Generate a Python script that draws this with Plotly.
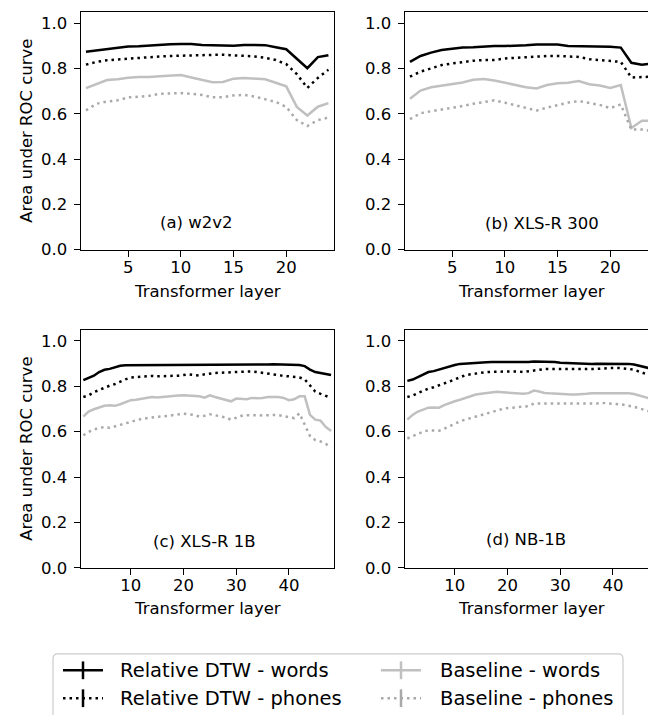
import plotly.graph_objects as go

# ---------------- data ----------------
layers_24 = list(range(1, 25))
layers_48 = list(range(1, 49))

w2v2_rel_words = [0.874,0.879,0.887,0.890,0.897,0.898,0.901,0.906,0.907,0.908,0.908,0.904,0.901,0.901,0.900,0.904,0.904,0.903,0.894,0.885,0.843,0.801,0.850,0.858]
w2v2_rel_phones = [0.817,0.829,0.836,0.840,0.843,0.847,0.850,0.853,0.855,0.856,0.858,0.859,0.859,0.861,0.858,0.856,0.853,0.847,0.837,0.819,0.775,0.714,0.758,0.794]
w2v2_base_words = [0.713,0.731,0.749,0.752,0.759,0.762,0.762,0.766,0.769,0.771,0.760,0.749,0.739,0.740,0.755,0.758,0.756,0.752,0.737,0.721,0.630,0.592,0.631,0.647]
w2v2_base_phones = [0.615,0.644,0.654,0.659,0.672,0.676,0.679,0.688,0.691,0.691,0.688,0.683,0.673,0.673,0.681,0.683,0.676,0.663,0.652,0.630,0.572,0.546,0.572,0.583]

xlsr300_rel_words = [0.829,0.855,0.870,0.881,0.887,0.893,0.894,0.897,0.899,0.899,0.899,0.902,0.906,0.906,0.906,0.899,0.899,0.896,0.896,0.896,0.892,0.825,0.816,0.822]
xlsr300_rel_phones = [0.764,0.786,0.800,0.815,0.822,0.829,0.834,0.837,0.837,0.844,0.847,0.848,0.853,0.855,0.855,0.854,0.851,0.841,0.837,0.832,0.829,0.760,0.763,0.764]
xlsr300_base_words = [0.666,0.702,0.717,0.724,0.732,0.738,0.750,0.753,0.747,0.738,0.727,0.717,0.712,0.727,0.735,0.737,0.744,0.730,0.725,0.714,0.727,0.537,0.569,0.569]
xlsr300_base_phones = [0.576,0.602,0.611,0.618,0.625,0.634,0.644,0.653,0.659,0.649,0.637,0.627,0.614,0.627,0.639,0.649,0.656,0.649,0.639,0.625,0.641,0.530,0.530,0.523]

xlsr1b_rel_words = [0.827,0.836,0.847,0.863,0.873,0.877,0.884,0.891,0.893,0.893,
                    0.894,0.894,0.894,0.893,0.894,0.896,0.896,0.896,0.896,0.896,
                    0.896,0.896,0.896,0.896,0.894,0.894,0.896,0.896,0.896,0.896,
                    0.896,0.896,0.896,0.896,0.896,0.896,0.897,0.897,0.896,0.896,
                    0.896,0.894,0.889,0.874,0.863,0.859,0.853,0.850]
xlsr1b_rel_phones = [0.753,0.760,0.774,0.784,0.796,0.803,0.810,0.821,0.831,0.839,
                     0.841,0.844,0.846,0.846,0.844,0.844,0.846,0.847,0.847,0.850,
                     0.853,0.850,0.847,0.853,0.857,0.859,0.860,0.861,0.863,0.864,
                     0.864,0.866,0.866,0.863,0.859,0.856,0.853,0.850,0.846,0.844,
                     0.841,0.839,0.831,0.803,0.777,0.767,0.757,0.749]
xlsr1b_base_words = [0.667,0.689,0.699,0.706,0.714,0.717,0.714,0.721,0.729,0.739,
                     0.741,0.746,0.749,0.753,0.751,0.754,0.757,0.759,0.760,0.761,
                     0.760,0.759,0.756,0.750,0.760,0.753,0.746,0.739,0.734,0.746,
                     0.744,0.743,0.749,0.747,0.749,0.753,0.753,0.753,0.749,0.739,
                     0.743,0.756,0.756,0.674,0.653,0.649,0.621,0.603]
xlsr1b_base_phones = [0.584,0.599,0.610,0.616,0.621,0.617,0.624,0.631,0.636,0.646,
                      0.650,0.656,0.660,0.664,0.666,0.667,0.670,0.671,0.674,0.679,
                      0.677,0.674,0.667,0.670,0.677,0.673,0.670,0.663,0.653,0.663,
                      0.670,0.673,0.674,0.673,0.671,0.673,0.674,0.673,0.670,0.664,
                      0.660,0.681,0.631,0.581,0.563,0.557,0.546,0.531]

nb1b_rel_words = [0.824,0.830,0.841,0.853,0.863,0.867,0.874,0.881,0.889,0.894,
                  0.899,0.901,0.903,0.904,0.906,0.906,0.907,0.907,0.907,0.906,
                  0.906,0.906,0.904,0.907,0.910,0.910,0.909,0.907,0.907,0.904,
                  0.903,0.901,0.900,0.899,0.899,0.899,0.900,0.900,0.901,0.901,
                  0.901,0.900,0.899,0.896,0.890,0.883,0.877,0.874]
nb1b_rel_phones = [0.753,0.759,0.770,0.781,0.790,0.796,0.803,0.813,0.821,0.830,
                   0.839,0.849,0.853,0.857,0.860,0.863,0.864,0.864,0.866,0.866,
                   0.867,0.866,0.863,0.867,0.871,0.874,0.876,0.876,0.876,0.876,
                   0.876,0.874,0.873,0.873,0.874,0.876,0.877,0.879,0.880,0.881,
                   0.881,0.880,0.877,0.873,0.864,0.857,0.849,0.841]
nb1b_base_words = [0.653,0.674,0.689,0.699,0.706,0.707,0.706,0.717,0.727,0.734,
                   0.741,0.749,0.759,0.764,0.767,0.770,0.774,0.776,0.774,0.773,
                   0.771,0.770,0.767,0.770,0.781,0.777,0.771,0.769,0.767,0.766,
                   0.764,0.764,0.764,0.764,0.767,0.770,0.770,0.770,0.770,0.770,
                   0.770,0.770,0.769,0.766,0.760,0.753,0.746,0.746]
nb1b_base_phones = [0.570,0.581,0.591,0.600,0.606,0.606,0.604,0.613,0.624,0.636,
                    0.646,0.653,0.660,0.667,0.674,0.681,0.687,0.693,0.700,0.704,
                    0.707,0.710,0.710,0.713,0.724,0.724,0.723,0.723,0.723,0.724,
                    0.724,0.724,0.723,0.721,0.721,0.723,0.724,0.727,0.726,0.724,
                    0.721,0.719,0.716,0.710,0.703,0.696,0.689,0.687]

panel_labels = ["(a) w2v2", "(b) XLS-R 300", "(c) XLS-R 1B", "(d) NB-1B"]
series_names = ["Relative DTW - words", "Relative DTW - phones",
                "Baseline - words", "Baseline - phones"]
x_ticks_24 = [5, 10, 15, 20]
x_ticks_48 = [10, 20, 30, 40]
y_ticks = [0.0, 0.2, 0.4, 0.6, 0.8, 1.0]
x_title = "Transformer layer"
y_title = "Area under ROC curve"

# ---------------- styling ----------------
W, H = 656, 715
FONT = "DejaVu Sans"
FS = 16.5
LW = 2.5
DOT = "2.5px,4px"
styles = [
    dict(color="black", dash="solid"),
    dict(color="black", dash=DOT),
    dict(color="#c0c0c0", dash="solid"),
    dict(color="#a9a9a9", dash=DOT),
]

def px(x):
    return x / W

def py(y):
    return 1 - y / H

panels = [
    dict(layers=layers_24, series=[w2v2_rel_words, w2v2_rel_phones, w2v2_base_words, w2v2_base_phones],
         xd=[72.7, 325.7], yd=[3.9, 245.0], rng=[0.5, 24.5], ticks=x_ticks_24, lab=(11.5, 0.1215)),
    dict(layers=layers_24, series=[xlsr300_rel_words, xlsr300_rel_phones, xlsr300_base_words, xlsr300_base_phones],
         xd=[396.7, 649.7], yd=[3.9, 245.0], rng=[0.5, 24.5], ticks=x_ticks_24, lab=(13.5, 0.1145)),
    dict(layers=layers_48, series=[xlsr1b_rel_words, xlsr1b_rel_phones, xlsr1b_base_words, xlsr1b_base_phones],
         xd=[72.7, 325.7], yd=[326.2, 567.7], rng=[0.5, 48.5], ticks=x_ticks_48, lab=(23.9, 0.117)),
    dict(layers=layers_48, series=[nb1b_rel_words, nb1b_rel_phones, nb1b_base_words, nb1b_base_phones],
         xd=[396.7, 649.7], yd=[326.2, 567.7], rng=[0.5, 48.5], ticks=x_ticks_48, lab=(23.6, 0.123)),
]

fig = go.Figure()
annotations = []
layout = {}
for i, p in enumerate(panels):
    n = "" if i == 0 else str(i + 1)
    xa, ya = "x" + n, "y" + n
    for j, s in enumerate(p["series"]):
        fig.add_trace(go.Scatter(
            x=p["layers"], y=s, mode="lines", name=series_names[j], showlegend=False,
            line=dict(color=styles[j]["color"], dash=styles[j]["dash"], width=LW),
            xaxis=xa, yaxis=ya, hoverinfo="skip"))
    common = dict(showline=True, linecolor="black", linewidth=1.3, mirror=True,
                  ticks="outside", ticklen=6, tickwidth=1.3, tickcolor="black",
                  showgrid=False, zeroline=False,
                  tickfont=dict(family=FONT, size=FS, color="black"))
    layout["xaxis" + n] = dict(common, domain=[px(p["xd"][0]), px(p["xd"][1])],
                               range=p["rng"], tickmode="array", tickvals=p["ticks"],
                               anchor=ya, ticklabelstandoff=-4)
    layout["yaxis" + n] = dict(common, domain=[py(p["yd"][1]), py(p["yd"][0])],
                               range=[0, 1.05], tickmode="array", tickvals=y_ticks,
                               tickformat=".1f", anchor=xa, ticklabelstandoff=3)
    annotations.append(dict(text=panel_labels[i], x=p["lab"][0], y=p["lab"][1],
                            xref=xa, yref=ya, showarrow=False, xanchor="center", yanchor="middle",
                            font=dict(family=FONT, size=FS, color="black")))
    # x-axis title
    xt_y = 287.5 if i < 2 else 609.0
    annotations.append(dict(text=x_title, x=px((p["xd"][0] + p["xd"][1]) / 2), y=py(xt_y),
                            xref="paper", yref="paper", showarrow=False,
                            xanchor="center", yanchor="middle",
                            font=dict(family=FONT, size=FS, color="black")))
    if i % 2 == 0:
        annotations.append(dict(text=y_title, x=px(19), y=py((p["yd"][0] + p["yd"][1]) / 2),
                                xref="paper", yref="paper", showarrow=False, textangle=-90,
                                xanchor="center", yanchor="middle",
                                font=dict(family=FONT, size=FS, color="black")))

# ---------------- legend (drawn manually) ----------------
shapes = []
L, R, T, B, r = 45, 615, 655, 740, 5
path = (f"M {px(L + r)},{py(T)} L {px(R - r)},{py(T)} Q {px(R)},{py(T)} {px(R)},{py(T + r)} "
        f"L {px(R)},{py(B)} L {px(L)},{py(B)} L {px(L)},{py(T + r)} Q {px(L)},{py(T)} {px(L + r)},{py(T)} Z")
shapes.append(dict(type="path", path=path, xref="paper", yref="paper",
                   line=dict(color="#cccccc", width=1.2), fillcolor="rgba(255,255,255,0.8)"))
leg_cols = [(55, 95, 110), (373, 413, 430)]
leg_rows = [671.7, 700.0]
for j, name in enumerate(series_names):
    c, rw = j // 2, j % 2
    hx0, hx1, tx = leg_cols[c]
    yy = leg_rows[rw]
    shapes.append(dict(type="line", xref="paper", yref="paper",
                       x0=px(hx0), x1=px(hx1), y0=py(yy), y1=py(yy),
                       line=dict(color=styles[j]["color"], width=LW, dash=styles[j]["dash"])))
    xm = (hx0 + hx1) / 2
    shapes.append(dict(type="line", xref="paper", yref="paper",
                       x0=px(xm), x1=px(xm), y0=py(yy - 9), y1=py(yy + 9),
                       line=dict(color=styles[j]["color"], width=LW)))
    annotations.append(dict(text=name, x=px(tx), y=py(yy), xref="paper", yref="paper",
                            showarrow=False, xanchor="left", yanchor="middle",
                            font=dict(family=FONT, size=19.5, color="black")))

fig.update_layout(**layout)
fig.update_layout(width=W, height=H, margin=dict(l=0, r=0, t=0, b=0),
                  paper_bgcolor="white", plot_bgcolor="white",
                  showlegend=False, annotations=annotations, shapes=shapes,
                  font=dict(family=FONT, size=FS, color="black"))
fig.write_html("out.html")
